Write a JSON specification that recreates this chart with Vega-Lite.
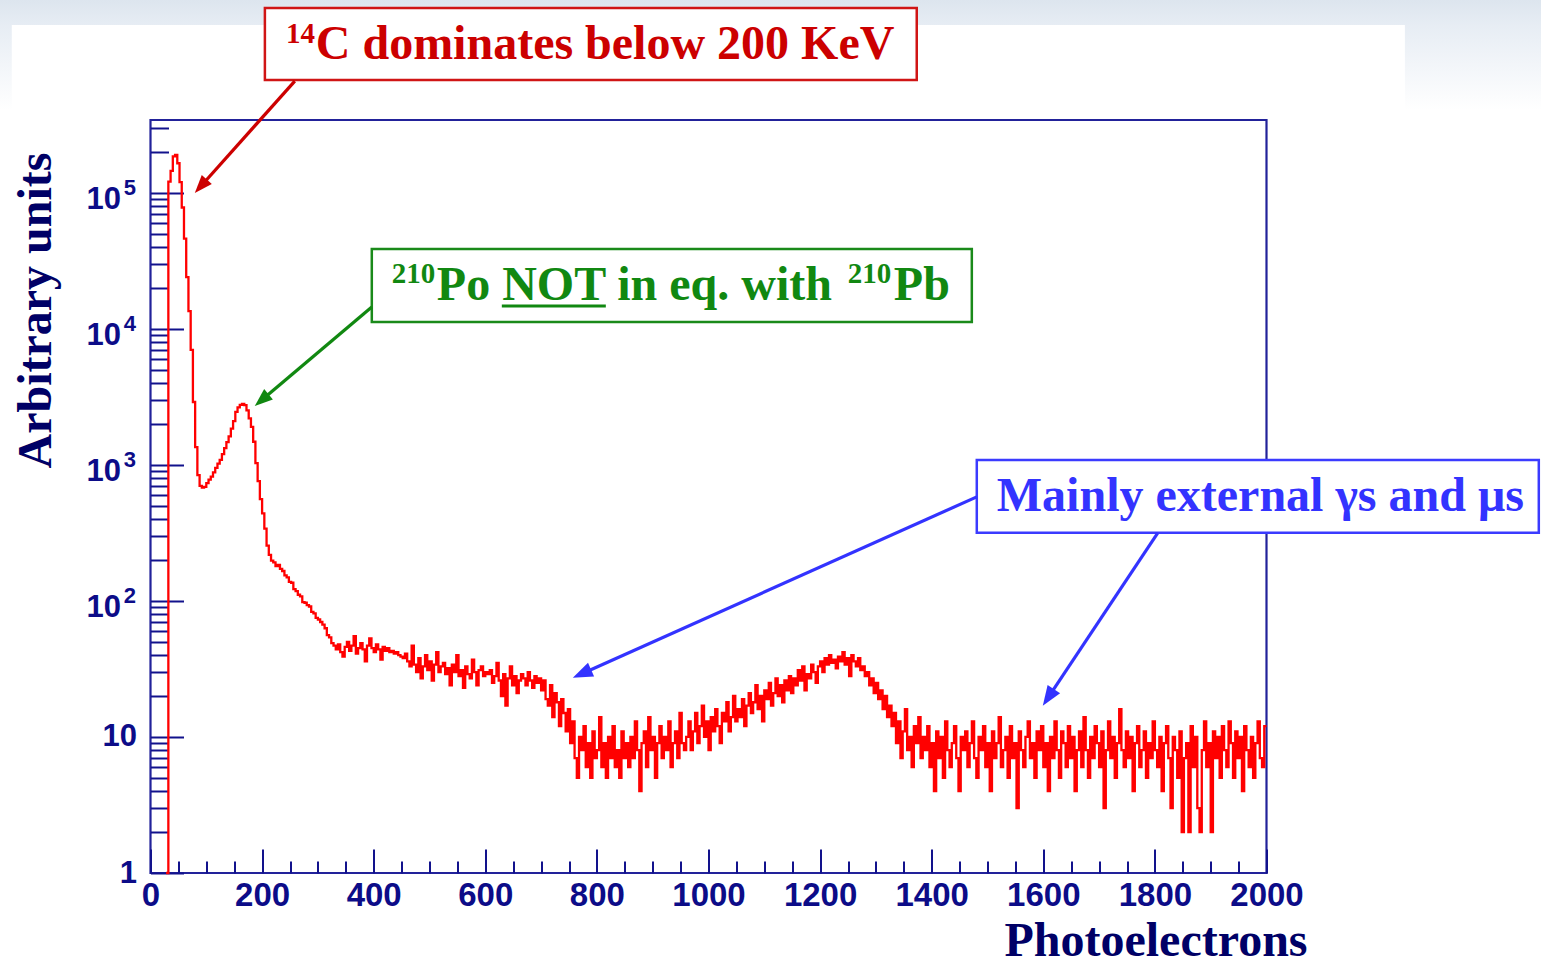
{
  "$schema": "https://vega.github.io/schema/vega-lite/v6.json",
  "width": 1116,
  "height": 753,
  "autosize": {"type": "none"},
  "padding": {"left": 150.5, "top": 120, "right": 274.5, "bottom": 91},
  "background": "#ffffff",
  "config": {
    "view": {"stroke": "#22229a", "strokeWidth": 2.2},
    "font": "Liberation Sans",
    "axis": {
      "grid": false, "domain": false,
      "tickColor": "#12128c", "tickWidth": 2,
      "labelColor": "#0c0c88", "labelFont": "Liberation Sans", "labelFontWeight": "bold",
      "labelOverlap": false, "labelFlush": false, "labelBound": false,
      "titleColor": "#000066", "titleFont": "Liberation Serif", "titleFontWeight": "bold", "titleFontSize": 48
    }
  },
  "datasets": {
    "hist": [
      {"pe":28,"n":1},{"pe":32,"n":121000},{"pe":36,"n":145000},{"pe":40,"n":185000},{"pe":44,"n":190000},{"pe":48,"n":165000},{"pe":52,"n":120000},{"pe":56,"n":78000},{"pe":60,"n":46000},{"pe":64,"n":24000},{"pe":68,"n":13500},{"pe":72,"n":7000},{"pe":76,"n":2900},{"pe":80,"n":1350},{"pe":84,"n":840},{"pe":88,"n":700},{"pe":92,"n":680},{"pe":96,"n":690},
      {"pe":100,"n":735},{"pe":104,"n":780},{"pe":108,"n":820},{"pe":112,"n":880},{"pe":116,"n":950},{"pe":120,"n":1020},{"pe":124,"n":1090},{"pe":128,"n":1200},{"pe":132,"n":1330},{"pe":136,"n":1470},{"pe":140,"n":1620},{"pe":144,"n":1850},{"pe":148,"n":2100},{"pe":152,"n":2450},{"pe":156,"n":2650},{"pe":160,"n":2760},{"pe":164,"n":2810},{"pe":168,"n":2750},{"pe":172,"n":2520},{"pe":176,"n":2200},{"pe":180,"n":1900},{"pe":184,"n":1480},{"pe":188,"n":1030},{"pe":192,"n":760},{"pe":196,"n":560},
      {"pe":200,"n":440},{"pe":204,"n":340},{"pe":208,"n":255},{"pe":212,"n":218},{"pe":216,"n":198},{"pe":220,"n":192},{"pe":224,"n":180},{"pe":228,"n":184},{"pe":232,"n":172},{"pe":236,"n":166},{"pe":240,"n":154},{"pe":244,"n":149},{"pe":248,"n":138},{"pe":252,"n":136},{"pe":256,"n":122},{"pe":260,"n":118},{"pe":264,"n":111},{"pe":268,"n":108},{"pe":272,"n":98},{"pe":276,"n":97},{"pe":280,"n":93},{"pe":284,"n":91},{"pe":288,"n":83},{"pe":292,"n":81},{"pe":296,"n":75},
      {"pe":300,"n":73},{"pe":304,"n":70},{"pe":308,"n":67},{"pe":312,"n":63},{"pe":316,"n":56},{"pe":320,"n":54},{"pe":324,"n":49},{"pe":328,"n":47},
      {"pe":332,"n":44},{"pe":336,"n":48},{"pe":340,"n":42},{"pe":344,"n":39},{"pe":348,"n":46},{"pe":352,"n":50},{"pe":356,"n":43},{"pe":360,"n":47},{"pe":364,"n":55},{"pe":368,"n":41},{"pe":372,"n":45},{"pe":376,"n":49},{"pe":380,"n":44},{"pe":384,"n":36},{"pe":388,"n":47},{"pe":392,"n":53},{"pe":396,"n":45},{"pe":400,"n":42},{"pe":404,"n":48},{"pe":408,"n":44},{"pe":412,"n":37},{"pe":416,"n":46},{"pe":420,"n":43},{"pe":424,"n":45},{"pe":428,"n":42},
      {"pe":432,"n":43},{"pe":436,"n":41},{"pe":440,"n":42},{"pe":444,"n":40},{"pe":448,"n":39},{"pe":452,"n":38},{"pe":456,"n":41},{"pe":460,"n":36},
      {"pe":464,"n":33},{"pe":468,"n":47},{"pe":472,"n":34},{"pe":476,"n":30},{"pe":480,"n":38},{"pe":484,"n":27},{"pe":488,"n":33},{"pe":492,"n":40},{"pe":496,"n":31},{"pe":500,"n":36},{"pe":504,"n":26},{"pe":508,"n":34},{"pe":512,"n":42},{"pe":516,"n":30},{"pe":520,"n":33},
      {"pe":524,"n":35},{"pe":528,"n":29},{"pe":532,"n":32},{"pe":536,"n":24},{"pe":540,"n":34},{"pe":544,"n":30},{"pe":548,"n":40},{"pe":552,"n":28},{"pe":556,"n":31},{"pe":560,"n":23},{"pe":564,"n":33},{"pe":568,"n":29},{"pe":572,"n":27},{"pe":576,"n":37},{"pe":580,"n":30},{"pe":584,"n":24},{"pe":588,"n":31},{"pe":592,"n":33},{"pe":596,"n":28},{"pe":600,"n":30},
      {"pe":604,"n":29},{"pe":608,"n":31},{"pe":612,"n":25},{"pe":616,"n":28},{"pe":620,"n":35},{"pe":624,"n":26},{"pe":628,"n":20},{"pe":632,"n":29},{"pe":636,"n":17},{"pe":640,"n":27},{"pe":644,"n":33},{"pe":648,"n":24},{"pe":652,"n":28},{"pe":656,"n":21},{"pe":660,"n":26},
      {"pe":664,"n":29},{"pe":668,"n":27},{"pe":672,"n":24},{"pe":676,"n":30},{"pe":680,"n":26},{"pe":684,"n":23},{"pe":688,"n":28},{"pe":692,"n":25},{"pe":696,"n":27},
      {"pe":700,"n":22},{"pe":704,"n":26},{"pe":708,"n":19},{"pe":712,"n":17},{"pe":716,"n":24},{"pe":720,"n":14},{"pe":724,"n":21},{"pe":728,"n":18},{"pe":732,"n":12},{"pe":736,"n":19},{"pe":740,"n":15},{"pe":744,"n":11},{"pe":748,"n":16},
      {"pe":752,"n":9},{"pe":756,"n":13},{"pe":760,"n":7},{"pe":764,"n":5},{"pe":768,"n":10},{"pe":772,"n":8},{"pe":776,"n":12},{"pe":780,"n":6},{"pe":784,"n":9},{"pe":788,"n":5},{"pe":792,"n":11},{"pe":796,"n":7},{"pe":800,"n":8},{"pe":804,"n":14},{"pe":808,"n":6},{"pe":812,"n":9},{"pe":816,"n":5},{"pe":820,"n":10},{"pe":824,"n":7},{"pe":828,"n":12},{"pe":832,"n":6},{"pe":836,"n":8},{"pe":840,"n":5},{"pe":844,"n":11},{"pe":848,"n":7},{"pe":852,"n":9},{"pe":856,"n":6},
      {"pe":860,"n":10},{"pe":864,"n":7},{"pe":868,"n":13},{"pe":872,"n":8},{"pe":876,"n":4},{"pe":880,"n":9},{"pe":884,"n":11},{"pe":888,"n":6},{"pe":892,"n":14},{"pe":896,"n":8},{"pe":900,"n":10},{"pe":904,"n":5},{"pe":908,"n":9},{"pe":912,"n":12},{"pe":916,"n":7},{"pe":920,"n":10},{"pe":924,"n":8},{"pe":928,"n":13},{"pe":932,"n":6},{"pe":936,"n":9},{"pe":940,"n":11},{"pe":944,"n":7},{"pe":948,"n":15},{"pe":952,"n":9},{"pe":956,"n":8},
      {"pe":960,"n":10},{"pe":964,"n":13},{"pe":968,"n":8},{"pe":972,"n":11},{"pe":976,"n":15},{"pe":980,"n":9},{"pe":984,"n":12},{"pe":988,"n":17},{"pe":992,"n":10},{"pe":996,"n":13},{"pe":1000,"n":8},{"pe":1004,"n":14},{"pe":1008,"n":11},{"pe":1012,"n":16},{"pe":1016,"n":12},{"pe":1020,"n":9},{"pe":1024,"n":15},{"pe":1028,"n":13},{"pe":1032,"n":18},{"pe":1036,"n":11},{"pe":1040,"n":14},{"pe":1044,"n":20},{"pe":1048,"n":13},
      {"pe":1052,"n":16},{"pe":1056,"n":14},{"pe":1060,"n":19},{"pe":1064,"n":12},{"pe":1068,"n":17},{"pe":1072,"n":21},{"pe":1076,"n":15},{"pe":1080,"n":18},{"pe":1084,"n":24},{"pe":1088,"n":16},{"pe":1092,"n":20},{"pe":1096,"n":13},{"pe":1100,"n":22},{"pe":1104,"n":19},{"pe":1108,"n":25},{"pe":1112,"n":17},{"pe":1116,"n":21},{"pe":1120,"n":27},{"pe":1124,"n":20},{"pe":1128,"n":24},{"pe":1132,"n":18},{"pe":1136,"n":26},{"pe":1140,"n":22},{"pe":1144,"n":28},
      {"pe":1148,"n":21},{"pe":1152,"n":27},{"pe":1156,"n":24},{"pe":1160,"n":31},{"pe":1164,"n":26},{"pe":1168,"n":33},{"pe":1172,"n":22},{"pe":1176,"n":29},{"pe":1180,"n":27},{"pe":1184,"n":34},{"pe":1188,"n":30},{"pe":1192,"n":25},
      {"pe":1196,"n":33},{"pe":1200,"n":36},{"pe":1204,"n":30},{"pe":1208,"n":38},{"pe":1212,"n":34},{"pe":1216,"n":40},{"pe":1220,"n":35},{"pe":1224,"n":37},{"pe":1228,"n":32},{"pe":1232,"n":39},{"pe":1236,"n":36},{"pe":1240,"n":42},{"pe":1244,"n":34},{"pe":1248,"n":38},{"pe":1252,"n":28},{"pe":1256,"n":40},{"pe":1260,"n":36},{"pe":1264,"n":33},{"pe":1268,"n":38},{"pe":1272,"n":31},
      {"pe":1276,"n":33},{"pe":1280,"n":28},{"pe":1284,"n":30},{"pe":1288,"n":24},{"pe":1292,"n":27},{"pe":1296,"n":21},{"pe":1300,"n":25},{"pe":1304,"n":19},{"pe":1308,"n":22},{"pe":1312,"n":16},{"pe":1316,"n":20},{"pe":1320,"n":14},{"pe":1324,"n":17},{"pe":1328,"n":12},{"pe":1332,"n":15},
      {"pe":1336,"n":9},{"pe":1340,"n":13},{"pe":1344,"n":7},{"pe":1348,"n":11},{"pe":1352,"n":16},{"pe":1356,"n":8},{"pe":1360,"n":10},{"pe":1364,"n":6},{"pe":1368,"n":12},{"pe":1372,"n":9},{"pe":1376,"n":14},{"pe":1380,"n":7},{"pe":1384,"n":10},
      {"pe":1388,"n":8},{"pe":1392,"n":12},{"pe":1396,"n":6},{"pe":1400,"n":9},{"pe":1404,"n":4},{"pe":1408,"n":11},{"pe":1412,"n":7},{"pe":1416,"n":10},{"pe":1420,"n":5},{"pe":1424,"n":13},{"pe":1428,"n":8},{"pe":1432,"n":6},{"pe":1436,"n":9},{"pe":1440,"n":12},{"pe":1444,"n":7},{"pe":1448,"n":4},{"pe":1452,"n":10},{"pe":1456,"n":8},{"pe":1460,"n":11},{"pe":1464,"n":6},{"pe":1468,"n":9},{"pe":1472,"n":13},{"pe":1476,"n":7},{"pe":1480,"n":5},{"pe":1484,"n":10},{"pe":1488,"n":8},{"pe":1492,"n":12},{"pe":1496,"n":6},
      {"pe":1500,"n":9},{"pe":1504,"n":4},{"pe":1508,"n":11},{"pe":1512,"n":7},{"pe":1516,"n":9},{"pe":1520,"n":14},{"pe":1524,"n":6},{"pe":1528,"n":8},{"pe":1532,"n":10},{"pe":1536,"n":5},{"pe":1540,"n":12},{"pe":1544,"n":7},{"pe":1548,"n":9},{"pe":1552,"n":3},{"pe":1556,"n":11},{"pe":1560,"n":8},{"pe":1564,"n":6},{"pe":1568,"n":10},{"pe":1572,"n":13},{"pe":1576,"n":7},{"pe":1580,"n":9},{"pe":1584,"n":5},{"pe":1588,"n":11},{"pe":1592,"n":8},{"pe":1596,"n":12},
      {"pe":1600,"n":6},{"pe":1604,"n":9},{"pe":1608,"n":4},{"pe":1612,"n":10},{"pe":1616,"n":7},{"pe":1620,"n":13},{"pe":1624,"n":8},{"pe":1628,"n":5},{"pe":1632,"n":11},{"pe":1636,"n":9},{"pe":1640,"n":6},{"pe":1644,"n":12},{"pe":1648,"n":7},{"pe":1652,"n":10},{"pe":1656,"n":4},{"pe":1660,"n":8},{"pe":1664,"n":11},{"pe":1668,"n":6},{"pe":1672,"n":14},{"pe":1676,"n":8},{"pe":1680,"n":5},{"pe":1684,"n":10},{"pe":1688,"n":7},{"pe":1692,"n":12},{"pe":1696,"n":9},
      {"pe":1700,"n":6},{"pe":1704,"n":11},{"pe":1708,"n":3},{"pe":1712,"n":8},{"pe":1716,"n":13},{"pe":1720,"n":7},{"pe":1724,"n":10},{"pe":1728,"n":5},{"pe":1732,"n":9},{"pe":1736,"n":16},{"pe":1740,"n":8},{"pe":1744,"n":6},{"pe":1748,"n":11},{"pe":1752,"n":7},{"pe":1756,"n":10},{"pe":1760,"n":4},{"pe":1764,"n":9},{"pe":1768,"n":12},{"pe":1772,"n":6},{"pe":1776,"n":8},{"pe":1780,"n":11},{"pe":1784,"n":5},{"pe":1788,"n":9},{"pe":1792,"n":7},{"pe":1796,"n":13},
      {"pe":1800,"n":8},{"pe":1804,"n":6},{"pe":1808,"n":10},{"pe":1812,"n":4},{"pe":1816,"n":9},{"pe":1820,"n":12},{"pe":1824,"n":7},{"pe":1828,"n":3},{"pe":1832,"n":10},{"pe":1836,"n":8},{"pe":1840,"n":5},{"pe":1844,"n":11},{"pe":1848,"n":2},{"pe":1852,"n":7},{"pe":1856,"n":9},{"pe":1860,"n":2},{"pe":1864,"n":12},{"pe":1868,"n":6},{"pe":1872,"n":10},{"pe":1876,"n":3},{"pe":1880,"n":2},{"pe":1884,"n":8},{"pe":1888,"n":13},{"pe":1892,"n":6},{"pe":1896,"n":9},
      {"pe":1900,"n":2},{"pe":1904,"n":11},{"pe":1908,"n":7},{"pe":1912,"n":10},{"pe":1916,"n":5},{"pe":1920,"n":12},{"pe":1924,"n":8},{"pe":1928,"n":6},{"pe":1932,"n":13},{"pe":1936,"n":9},{"pe":1940,"n":5},{"pe":1944,"n":11},{"pe":1948,"n":7},{"pe":1952,"n":10},{"pe":1956,"n":4},{"pe":1960,"n":12},{"pe":1964,"n":8},{"pe":1968,"n":6},{"pe":1972,"n":10},{"pe":1976,"n":5},{"pe":1980,"n":9},{"pe":1984,"n":13},{"pe":1988,"n":7},{"pe":1992,"n":6},{"pe":1996,"n":12},{"pe":2000,"n":12}
    ],
    "boxes": [
      {"label":"c14","x0":205,"x1":1373.2,"y0":2280000,"y1":674400},
      {"label":"po","x0":396.6,"x1":1471.9,"y0":38640,"y1":11240},
      {"label":"ext","x0":1480.8,"x1":2488,"y0":1088,"y1":316.5}
    ],
    "arrows": [
      {"id":"a1","label":"c14","xs":258.6,"ys":663000,"xe":91.4,"ye":113100,"xt":79.4,"yt":99700},
      {"id":"a2","label":"po","xs":396.6,"ys":14490,"xe":200.5,"ye":3029,"xt":186.9,"yt":2714},
      {"id":"a3","label":"ext","xs":1480.8,"ys":582,"xe":773.1,"ye":29.18,"xt":756.8,"yt":27.22},
      {"id":"a4","label":"ext","xs":1805.2,"ys":316.5,"xe":1608.9,"ye":19.51,"xt":1599.1,"yt":16.95}
    ],
    "notes": [
      {"label":"c14","part":"main","x":296.2,"y":962000,"text":"C dominates below 200 KeV"},
      {"label":"c14","part":"sup","x":243,"y":1261000,"text":"14"},
      {"label":"po","part":"main","x":513.1,"y":16310,"text":"Po NOT in eq. with"},
      {"label":"po","part":"sup","x":432.5,"y":21740,"text":"210"},
      {"label":"po","part":"sup","x":1249.6,"y":21740,"text":"210"},
      {"label":"po","part":"main","x":1332.1,"y":16310,"text":"Pb"},
      {"label":"ext","part":"main","x":1516.7,"y":459,"text":"Mainly external γs and μs"}
    ],
    "underline": [
      {"label":"po","x0":629.6,"x1":816,"y":14730}
    ]
  },
  "resolve": {"axis": {"x": "independent", "y": "independent"}},
  "layer": [
    {
      "data": {"values": [{"x0":-300,"x1":2600,"y0":406000,"y1":3100000}]},
      "mark": {"type": "rect", "fill": {"gradient": "linear", "x1": 0, "y1": 0, "x2": 0, "y2": 1,
        "stops": [{"offset": 0, "color": "#d9e2ec"}, {"offset": 0.3, "color": "#e7edf4"}, {"offset": 1, "color": "#ffffff"}]}},
      "encoding": {
        "x": {"field": "x0", "type": "quantitative", "scale": {"domain": [0, 2000], "nice": false, "zero": false}, "axis": null},
        "x2": {"field": "x1"},
        "y": {"field": "y0", "type": "quantitative", "scale": {"type": "log", "domain": [1, 343000], "nice": false}, "axis": null},
        "y2": {"field": "y1"}
      }
    },
    {
      "data": {"values": [{"x0":-248.6,"x1":2248,"y0":406000,"y1":1710000}]},
      "mark": {"type": "rect", "fill": "#ffffff"},
      "encoding": {
        "x": {"field": "x0", "type": "quantitative", "scale": {"domain": [0, 2000], "nice": false, "zero": false}, "axis": null},
        "x2": {"field": "x1"},
        "y": {"field": "y0", "type": "quantitative", "scale": {"type": "log", "domain": [1, 343000], "nice": false}, "axis": null},
        "y2": {"field": "y1"}
      }
    },
    {
      "data": {"name": "hist"},
      "mark": {"type": "line", "interpolate": "step-after", "color": "#ff0000", "strokeWidth": 2.3},
      "encoding": {
        "x": {"field": "pe", "type": "quantitative", "scale": {"domain": [0, 2000], "nice": false, "zero": false},
          "axis": {"orient": "bottom", "values": [0,200,400,600,800,1000,1200,1400,1600,1800,2000], "tickSize": -24, "labels": false,
            "title": "Photoelectrons", "titleX": 1156.5, "titleY": 82, "titleAlign": "right", "titleBaseline": "alphabetic", "titleAngle": 0}},
        "y": {"field": "n", "type": "quantitative", "scale": {"type": "log", "domain": [1, 343000], "nice": false},
          "axis": {"orient": "left", "values": [1,10,100,1000,10000,100000], "tickSize": -33, "labels": false,
            "title": "Arbitrary units", "titleX": -100.5, "titleY": 190, "titleAlign": "center", "titleBaseline": "alphabetic", "titleAngle": 270}}
      }
    },
    {
      "data": {"name": "boxes"},
      "mark": {"type": "rect", "fill": "#ffffff", "strokeWidth": 2.5},
      "encoding": {
        "x": {"field": "x0", "type": "quantitative", "scale": {"domain": [0, 2000], "nice": false, "zero": false},
          "axis": {"orient": "bottom", "values": [50,100,150,250,300,350,450,500,550,650,700,750,850,900,950,1050,1100,1150,1250,1300,1350,1450,1500,1550,1650,1700,1750,1850,1900,1950],
            "tickSize": -12, "labels": false, "title": null}},
        "x2": {"field": "x1"},
        "y": {"field": "y0", "type": "quantitative", "scale": {"type": "log", "domain": [1, 343000], "nice": false},
          "axis": {"orient": "left", "values": [2,3,4,5,6,7,8,9,20,30,40,50,60,70,80,90,200,300,400,500,600,700,800,900,2000,3000,4000,5000,6000,7000,8000,9000,20000,30000,40000,50000,60000,70000,80000,90000,200000,300000],
            "tickSize": -18, "labels": false, "title": null}},
        "y2": {"field": "y1"},
        "stroke": {"field": "label", "type": "nominal", "scale": {"domain": ["c14", "po", "ext"], "range": ["#d01515", "#1a8a1a", "#3b3bff"]}, "legend": null}
      }
    },
    {
      "data": {"name": "arrows"},
      "mark": {"type": "rule", "strokeWidth": 3.2},
      "encoding": {
        "x": {"field": "xs", "type": "quantitative", "scale": {"domain": [0, 2000], "nice": false, "zero": false},
          "axis": {"orient": "bottom", "values": [0,200,400,600,800,1000,1200,1400,1600,1800,2000], "format": "d", "ticks": false, "labelPadding": 6, "labelFontSize": 33, "title": null}},
        "x2": {"field": "xe"},
        "y": {"field": "ys", "type": "quantitative", "scale": {"type": "log", "domain": [1, 343000], "nice": false},
          "axis": {"orient": "left", "values": [1, 10], "ticks": false, "labelPadding": 14, "labelFontSize": 31, "labelExpr": "datum.value < 5 ? '1' : '10'", "title": null}},
        "y2": {"field": "ye"},
        "color": {"field": "label", "type": "nominal", "scale": {"domain": ["c14", "po", "ext"], "range": ["#cc0000", "#118811", "#3333ff"]}, "legend": null}
      }
    },
    {
      "data": {"name": "arrows"},
      "transform": [{"filter": "datum.id == 'a1'"}],
      "mark": {"type": "point", "shape": "M0,0L-0.75,2L0.75,2Z", "size": 324, "filled": true, "opacity": 1, "angle": 221.8},
      "encoding": {
        "x": {"field": "xt", "type": "quantitative", "scale": {"domain": [0, 2000], "nice": false, "zero": false}, "axis": null},
        "y": {"field": "yt", "type": "quantitative", "scale": {"type": "log", "domain": [1, 343000], "nice": false}, "axis": null},
        "color": {"field": "label", "type": "nominal", "legend": null}
      }
    },
    {
      "data": {"name": "arrows"},
      "transform": [{"filter": "datum.id == 'a2'"}],
      "mark": {"type": "point", "shape": "M0,0L-0.75,2L0.75,2Z", "size": 324, "filled": true, "opacity": 1, "angle": 229.7},
      "encoding": {
        "x": {"field": "xt", "type": "quantitative", "scale": {"domain": [0, 2000], "nice": false, "zero": false}, "axis": null},
        "y": {"field": "yt", "type": "quantitative", "scale": {"type": "log", "domain": [1, 343000], "nice": false}, "axis": null},
        "color": {"field": "label", "type": "nominal", "legend": null}
      }
    },
    {
      "data": {"name": "arrows"},
      "transform": [{"filter": "datum.id == 'a3'"}],
      "mark": {"type": "point", "shape": "M0,0L-0.75,2L0.75,2Z", "size": 400, "filled": true, "opacity": 1, "angle": 245.9},
      "encoding": {
        "x": {"field": "xt", "type": "quantitative", "scale": {"domain": [0, 2000], "nice": false, "zero": false}, "axis": null},
        "y": {"field": "yt", "type": "quantitative", "scale": {"type": "log", "domain": [1, 343000], "nice": false}, "axis": null},
        "color": {"field": "label", "type": "nominal", "legend": null}
      }
    },
    {
      "data": {"name": "arrows"},
      "transform": [{"filter": "datum.id == 'a4'"}],
      "mark": {"type": "point", "shape": "M0,0L-0.75,2L0.75,2Z", "size": 400, "filled": true, "opacity": 1, "angle": 213.6},
      "encoding": {
        "x": {"field": "xt", "type": "quantitative", "scale": {"domain": [0, 2000], "nice": false, "zero": false}, "axis": null},
        "y": {"field": "yt", "type": "quantitative", "scale": {"type": "log", "domain": [1, 343000], "nice": false}, "axis": null},
        "color": {"field": "label", "type": "nominal", "legend": null}
      }
    },
    {
      "data": {"name": "notes"},
      "transform": [{"filter": "datum.part == 'main'"}],
      "mark": {"type": "text", "font": "Liberation Serif", "fontWeight": "bold", "fontSize": 48, "align": "left", "baseline": "alphabetic"},
      "encoding": {
        "x": {"field": "x", "type": "quantitative", "scale": {"domain": [0, 2000], "nice": false, "zero": false}, "axis": null},
        "y": {"field": "y", "type": "quantitative", "scale": {"type": "log", "domain": [1, 343000], "nice": false},
          "axis": {"orient": "left", "values": [100, 1000, 10000, 100000], "ticks": false, "labelPadding": 30, "labelOffset": 7, "labelFontSize": 31, "labelExpr": "'10'", "title": null}},
        "text": {"field": "text"},
        "color": {"field": "label", "type": "nominal", "legend": null}
      }
    },
    {
      "data": {"name": "notes"},
      "transform": [{"filter": "datum.part == 'sup'"}],
      "mark": {"type": "text", "font": "Liberation Serif", "fontWeight": "bold", "fontSize": 29, "align": "left", "baseline": "alphabetic"},
      "encoding": {
        "x": {"field": "x", "type": "quantitative", "scale": {"domain": [0, 2000], "nice": false, "zero": false}, "axis": null},
        "y": {"field": "y", "type": "quantitative", "scale": {"type": "log", "domain": [1, 343000], "nice": false},
          "axis": {"orient": "left", "values": [100, 1000, 10000, 100000], "ticks": false, "labelPadding": 15, "labelOffset": -5, "labelFontSize": 22,
            "labelExpr": "datum.value < 500 ? '2' : datum.value < 5000 ? '3' : datum.value < 50000 ? '4' : '5'", "title": null}},
        "text": {"field": "text"},
        "color": {"field": "label", "type": "nominal", "legend": null}
      }
    },
    {
      "data": {"name": "underline"},
      "mark": {"type": "rule", "strokeWidth": 3},
      "encoding": {
        "x": {"field": "x0", "type": "quantitative", "scale": {"domain": [0, 2000], "nice": false, "zero": false}, "axis": null},
        "x2": {"field": "x1"},
        "y": {"field": "y", "type": "quantitative", "scale": {"type": "log", "domain": [1, 343000], "nice": false}, "axis": null},
        "color": {"field": "label", "type": "nominal", "legend": null}
      }
    }
  ]
}
